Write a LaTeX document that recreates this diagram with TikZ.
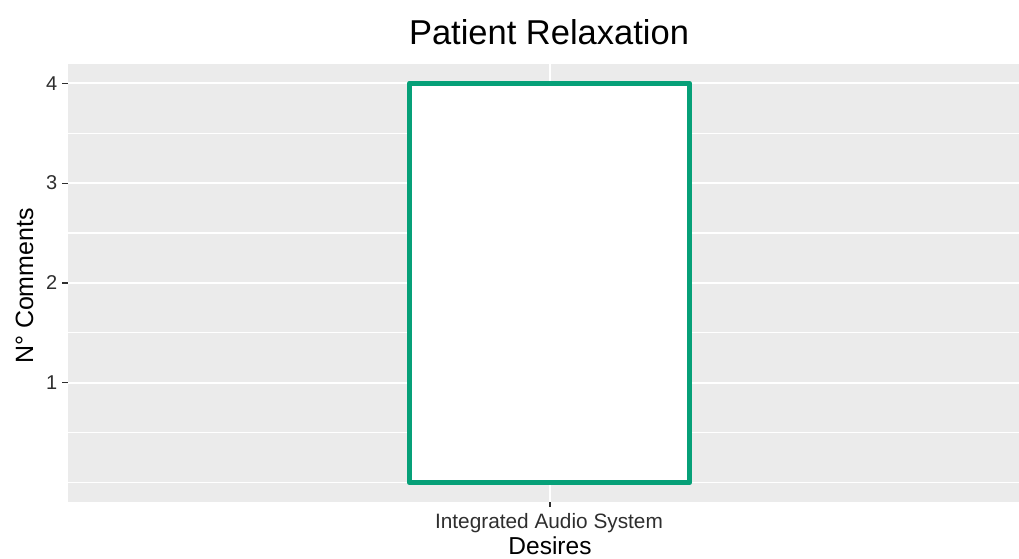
\documentclass[tikz,border=0pt]{standalone}
\usepackage{fontspec}
\setmainfont{Liberation Sans}
\definecolor{panelgrey}{HTML}{EBEBEB}
\definecolor{barline}{HTML}{06A078}
\definecolor{ticktext}{HTML}{2E2E2E}
\tikzset{
  majorgrid/.style={draw=white, line width=2pt},
  minorgrid/.style={draw=white, line width=1.1pt},
  tickmark/.style={draw=ticktext, line width=1.2pt},
  ticklabel/.style={text=ticktext, inner sep=0pt, font=\fontsize{20}{20}\selectfont},
  barbox/.style={draw=barline, fill=white, line width=5.5pt, line join=round},
}
\begin{document}
\begin{tikzpicture}[x=1pt, y=-1pt]
\useasboundingbox (0,0) rectangle (1019,558);

% panel background
\fill[panelgrey] (68,63.5) rectangle (1019,502);

% minor grid lines (0, 0.5, 1.5, 2.5, 3.5)
\foreach \v in {0,0.5,1.5,2.5,3.5}
  \draw[minorgrid] (68,{482.5-99.8*\v}) -- (1019,{482.5-99.8*\v});
% major grid lines (1 to 4)
\foreach \v in {1,2,3,4}
  \draw[majorgrid] (68,{482.5-99.8*\v}) -- (1019,{482.5-99.8*\v});
\draw[majorgrid] (550,63.5) -- (550,502);

% the single bar
\draw[barbox] (409.5,83.3) rectangle (689.5,482.5);

% y axis ticks and labels
\foreach \v in {1,2,3,4} {
  \draw[tickmark] (62,{482.5-99.8*\v}) -- (68,{482.5-99.8*\v});
  \node[ticklabel, anchor=east] (ytick\v) at (57.5,{482.5-99.8*\v}) {\v};
}

% x axis tick and label
\coordinate (xt) at (550,502);
\draw[tickmark] (xt) -- ++(0,5);
\node[ticklabel, anchor=base, font=\fontsize{20.8}{21}\selectfont] (xlab) at (549,528.5) {Integrated Audio System};

% titles
\node[anchor=base, inner sep=0pt, font=\fontsize{34.5}{35}\selectfont] (title) at (549,44) {Patient Relaxation};
\node[anchor=base, inner sep=0pt, font=\fontsize{24.5}{25}\selectfont] (xtitle) at (550,554.5) {Desires};
\node[anchor=base, inner sep=0pt, rotate=90, font=\fontsize{25}{25}\selectfont] (ytitle) at (33,286) {N° Comments};
\end{tikzpicture}
\end{document}
